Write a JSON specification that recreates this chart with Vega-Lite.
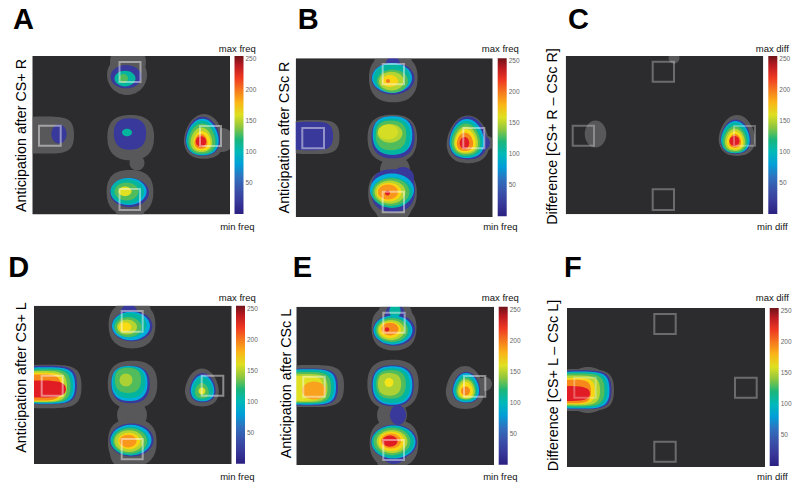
{"$schema":"https://vega.github.io/schema/vega-lite/v6.json","padding":0,"spacing":0,"bounds":"flush","align":"each","columns":3,
"resolve":{"scale":{"color":"independent"},"legend":{"color":"independent"}},
"config":{"view":{"stroke":null},"font":"Liberation Sans",
"range":{"symbol":["M-1,0A1,1,0,1,1,1,0A1,1,0,1,1,-1,0Z","M-.8,0A.8,1,0,1,1,.8,0A.8,1,0,1,1,-.8,0Z","M-1,0A1,.75,0,1,1,1,0A1,.75,0,1,1,-1,0Z","M0,-1C.6,-1,.95,-.1,.85,.35C.75,.85,.35,.95,0,.95C-.35,.95,-.75,.85,-.85,.35C-.95,-.1,-.6,-1,0,-1Z","M-.9,0C-.9,-.7,-.5,-.85,0,-.85C.6,-.85,.9,-.6,.9,0C.9,.6,.6,.9,0,.9C-.6,.9,-.9,.6,-.9,0Z","M-1,0C-1,-.6,-.7,-.62,0,-.62C.7,-.62,1,-.6,1,0C1,.6,.7,.62,0,.62C-.7,.62,-1,.6,-1,0Z","M-1,0C-1,-.3,-.6,-.33,0,-.33C.6,-.33,1,-.3,1,0C1,.3,.6,.33,0,.33C-.6,.33,-1,.3,-1,0Z"]},
"title":{"anchor":"start","frame":"group","offset":0,"fontSize":29,"fontWeight":"bold","font":"Liberation Sans","color":"#000"},
"axis":{"domain":false,"ticks":false,"labels":false,"grid":false,"titleFont":"Liberation Sans","titleFontWeight":"normal","titleFontSize":14.3,"titleColor":"#000"},
"legend":{"title":null,"gradientLength":158,"gradientThickness":9,"labelFontSize":6.5,"labelColor":"#666","labelOverlap":false,"labelOffset":3,"gradientStrokeWidth":0,"labelFont":"Liberation Sans"}},
"data":{"values":[
{"p":"A","k":"bg","x":32.3,"x2":230,"y":56,"y2":214.5},{"p":"A","k":"m","x":20.3,"x2":242,"y":44,"y2":226.5},
{"p":"A","k":"sq","x":119.5,"x2":140.5,"y":62,"y2":82},{"p":"A","k":"sq","x":39,"x2":60.7,"y":125.7,"y2":145.7},{"p":"A","k":"sq","x":200,"x2":221,"y":126,"y2":146},{"p":"A","k":"sq","x":119.5,"x2":140,"y":189,"y2":210},
{"p":"A","k":"t","x":237.3,"y":49,"l":"max freq"},{"p":"A","k":"t","x":237.3,"y":227.3,"l":"min freq"},
{"p":"A","k":"b","x":127,"y":75,"d":40,"s":"o","v":0},{"p":"A","k":"b","x":128,"y":62,"d":36,"s":"o","v":0},{"p":"A","k":"b","x":44,"y":135,"d":60,"s":"r","v":0},{"p":"A","k":"b","x":130.7,"y":137,"d":52,"s":"q","v":0},{"p":"A","k":"b","x":137,"y":163,"d":15,"s":"o","v":0},{"p":"A","k":"b","x":130,"y":192,"d":52,"s":"q","v":0},{"p":"A","k":"b","x":130,"y":205,"d":32,"s":"o","v":0},{"p":"A","k":"b","x":204,"y":137,"d":46,"s":"e","v":0},{"p":"A","k":"b","x":222,"y":140,"d":24,"s":"o","v":0},
{"p":"A","k":"b","x":126,"y":76.7,"d":31,"s":"w","v":20},{"p":"A","k":"b","x":125,"y":78.5,"d":21,"s":"w","v":108},{"p":"A","k":"b","x":123.5,"y":78.5,"d":9,"s":"o","v":130},
{"p":"A","k":"b","x":59,"y":134,"d":19,"s":"t","v":20},
{"p":"A","k":"b","x":130,"y":133.5,"d":36,"s":"q","v":20},{"p":"A","k":"b","x":127,"y":132.5,"d":10,"s":"w","v":108},
{"p":"A","k":"b","x":129.5,"y":192.5,"d":39,"s":"w","v":20},{"p":"A","k":"b","x":128.5,"y":191.5,"d":36,"s":"w","v":85},{"p":"A","k":"b","x":127.5,"y":191.5,"d":33,"s":"w","v":108},{"p":"A","k":"b","x":126.5,"y":191.5,"d":24,"s":"w","v":130},{"p":"A","k":"b","x":125,"y":191.3,"d":13,"s":"w","v":160},
{"p":"A","k":"b","x":202.7,"y":136.7,"d":40,"s":"e","v":20},{"p":"A","k":"b","x":202.5,"y":137.5,"d":37.5,"s":"e","v":85},{"p":"A","k":"b","x":202,"y":138,"d":35,"s":"e","v":108},{"p":"A","k":"b","x":202,"y":139,"d":31,"s":"e","v":130},{"p":"A","k":"b","x":201.5,"y":140,"d":25,"s":"e","v":150},{"p":"A","k":"b","x":202,"y":141,"d":20,"s":"e","v":168},{"p":"A","k":"b","x":201,"y":141.5,"d":15,"s":"e","v":195},{"p":"A","k":"b","x":201,"y":141.5,"d":10.5,"s":"o","v":228},

{"p":"B","k":"bg","x":25.7,"x2":222.7,"y":58.3,"y2":217},{"p":"B","k":"m","x":13.7,"x2":234.7,"y":46.3,"y2":229},
{"p":"B","k":"sq","x":112.7,"x2":134,"y":64,"y2":84.3},{"p":"B","k":"sq","x":32.3,"x2":54,"y":128,"y2":148.3},{"p":"B","k":"sq","x":193.3,"x2":214.3,"y":128,"y2":148.3},{"p":"B","k":"sq","x":112.7,"x2":134,"y":191.7,"y2":212.3},
{"p":"B","k":"t","x":230.3,"y":49,"l":"max freq"},{"p":"B","k":"t","x":230.3,"y":227.3,"l":"min freq"},
{"p":"B","k":"b","x":123.3,"y":78,"d":54,"s":"q","v":0},{"p":"B","k":"b","x":123,"y":64,"d":38,"s":"o","v":0},{"p":"B","k":"b","x":42,"y":137,"d":55,"s":"r","v":0},{"p":"B","k":"b","x":30,"y":137,"d":50,"s":"r","v":0},{"p":"B","k":"b","x":122.3,"y":138,"d":55,"s":"q","v":0},{"p":"B","k":"b","x":125,"y":170,"d":30,"s":"o","v":0},{"p":"B","k":"b","x":122.5,"y":193,"d":54,"s":"q","v":0},{"p":"B","k":"b","x":123,"y":205,"d":38,"s":"o","v":0},{"p":"B","k":"b","x":198,"y":140,"d":49,"s":"e","v":0},{"p":"B","k":"b","x":217,"y":143,"d":14,"s":"o","v":0},
{"p":"B","k":"b","x":123,"y":65,"d":18,"s":"t","v":20},{"p":"B","k":"b","x":123,"y":78.5,"d":43,"s":"w","v":20},{"p":"B","k":"b","x":122,"y":78,"d":40,"s":"w","v":85},{"p":"B","k":"b","x":122,"y":78,"d":37,"s":"w","v":108},{"p":"B","k":"b","x":122.5,"y":81,"d":31,"s":"w","v":130},{"p":"B","k":"b","x":121.5,"y":81,"d":25,"s":"w","v":150},{"p":"B","k":"b","x":120,"y":81,"d":16,"s":"w","v":170},{"p":"B","k":"b","x":118,"y":81,"d":4,"s":"o","v":200},
{"p":"B","k":"b","x":40,"y":136,"d":46,"s":"r","v":20},
{"p":"B","k":"b","x":123,"y":137,"d":48,"s":"q","v":20},{"p":"B","k":"b","x":122.5,"y":135,"d":44,"s":"q","v":85},{"p":"B","k":"b","x":122,"y":136,"d":41,"s":"q","v":108},{"p":"B","k":"b","x":121,"y":135,"d":34,"s":"q","v":130},{"p":"B","k":"b","x":120,"y":133.3,"d":25,"s":"w","v":150},{"p":"B","k":"b","x":118,"y":132,"d":20,"s":"w","v":158},
{"p":"B","k":"b","x":133,"y":178,"d":22,"s":"o","v":20},{"p":"B","k":"b","x":123,"y":190,"d":49,"s":"q","v":20},{"p":"B","k":"b","x":122,"y":190,"d":44,"s":"w","v":85},{"p":"B","k":"b","x":122,"y":192.5,"d":41,"s":"w","v":108},{"p":"B","k":"b","x":121,"y":192,"d":37,"s":"w","v":130},{"p":"B","k":"b","x":120,"y":192,"d":31,"s":"w","v":150},{"p":"B","k":"b","x":119,"y":192,"d":25,"s":"w","v":170},{"p":"B","k":"b","x":118,"y":192,"d":20,"s":"w","v":190},{"p":"B","k":"b","x":117.5,"y":193,"d":5,"s":"o","v":228},
{"p":"B","k":"b","x":213,"y":143,"d":14,"s":"o","v":20},{"p":"B","k":"b","x":198,"y":138.5,"d":44,"s":"e","v":20},{"p":"B","k":"b","x":197,"y":139,"d":40,"s":"e","v":85},{"p":"B","k":"b","x":196.5,"y":139.5,"d":37,"s":"e","v":108},{"p":"B","k":"b","x":196,"y":140,"d":33,"s":"e","v":130},{"p":"B","k":"b","x":196,"y":140.5,"d":28,"s":"e","v":150},{"p":"B","k":"b","x":195.5,"y":141,"d":24,"s":"e","v":168},{"p":"B","k":"b","x":195,"y":142,"d":19,"s":"e","v":195},{"p":"B","k":"b","x":194.5,"y":143,"d":12,"s":"t","v":228},

{"p":"C","k":"bg","x":35.7,"x2":233.3,"y":56,"y2":214.3},{"p":"C","k":"m","x":23.7,"x2":245.3,"y":44,"y2":226.3},
{"p":"C","k":"sq","x":122.7,"x2":144,"y":61.7,"y2":81.7},{"p":"C","k":"sq","x":42.7,"x2":64,"y":125.7,"y2":145.7},{"p":"C","k":"sq","x":204,"x2":225,"y":126,"y2":145.7},{"p":"C","k":"sq","x":122.7,"x2":144,"y":189.3,"y2":210},
{"p":"C","k":"t","x":242.3,"y":49,"l":"max diff"},{"p":"C","k":"t","x":242.3,"y":227.3,"l":"min diff"},
{"p":"C","k":"b","x":144,"y":58,"d":11,"s":"o","v":0},{"p":"C","k":"b","x":65.5,"y":134,"d":27,"s":"t","v":0},{"p":"C","k":"b","x":207,"y":136,"d":42,"s":"e","v":0},
{"p":"C","k":"b","x":205.7,"y":137,"d":35,"s":"e","v":20},{"p":"C","k":"b","x":205.5,"y":137.5,"d":33,"s":"e","v":85},{"p":"C","k":"b","x":205,"y":138,"d":31,"s":"e","v":108},{"p":"C","k":"b","x":205,"y":139.5,"d":27,"s":"e","v":130},{"p":"C","k":"b","x":205,"y":140,"d":23,"s":"e","v":150},{"p":"C","k":"b","x":205,"y":140.5,"d":19,"s":"e","v":168},{"p":"C","k":"b","x":205,"y":141,"d":14,"s":"e","v":195},{"p":"C","k":"b","x":204.5,"y":141,"d":10,"s":"o","v":228},

{"p":"D","k":"bg","x":34,"x2":231.7,"y":60.7,"y2":219},{"p":"D","k":"m","x":22,"x2":243.7,"y":48.7,"y2":231},
{"p":"D","k":"sq","x":121.7,"x2":142.7,"y":66,"y2":86.7},{"p":"D","k":"sq","x":41.7,"x2":62.7,"y":130.7,"y2":150.7},{"p":"D","k":"sq","x":201.7,"x2":223.3,"y":130.7,"y2":150.7},{"p":"D","k":"sq","x":121.7,"x2":142.7,"y":194,"y2":214.3},
{"p":"D","k":"t","x":237.3,"y":52.7,"l":"max freq"},{"p":"D","k":"t","x":237.3,"y":231.7,"l":"min freq"},
{"p":"D","k":"b","x":132,"y":80,"d":52,"s":"q","v":0},{"p":"D","k":"b","x":133,"y":68,"d":36,"s":"o","v":0},{"p":"D","k":"b","x":46.5,"y":141.5,"d":70,"s":"r","v":0},{"p":"D","k":"b","x":132.5,"y":139,"d":55,"s":"q","v":0},{"p":"D","k":"b","x":132,"y":170,"d":30,"s":"o","v":0},{"p":"D","k":"b","x":132.3,"y":197,"d":54,"s":"q","v":0},{"p":"D","k":"b","x":127,"y":208,"d":34,"s":"o","v":0},{"p":"D","k":"b","x":202,"y":143,"d":39,"s":"e","v":0},
{"p":"D","k":"b","x":129,"y":70,"d":22,"s":"t","v":20},{"p":"D","k":"b","x":132,"y":81,"d":41,"s":"w","v":20},{"p":"D","k":"b","x":131,"y":81,"d":38,"s":"w","v":85},{"p":"D","k":"b","x":130,"y":80,"d":33,"s":"w","v":108},{"p":"D","k":"b","x":128,"y":82,"d":27,"s":"w","v":130},{"p":"D","k":"b","x":127,"y":82,"d":20,"s":"w","v":150},{"p":"D","k":"b","x":125,"y":82,"d":13,"s":"w","v":168},
{"p":"D","k":"b","x":46,"y":140,"d":62,"s":"r","v":20},{"p":"D","k":"b","x":45.5,"y":140.5,"d":59,"s":"r","v":85},{"p":"D","k":"b","x":45,"y":140.5,"d":56,"s":"r","v":108},{"p":"D","k":"b","x":44,"y":141,"d":53,"s":"r","v":130},{"p":"D","k":"b","x":42,"y":141.5,"d":50,"s":"r","v":150},{"p":"D","k":"b","x":41,"y":142,"d":46,"s":"r","v":170},{"p":"D","k":"b","x":40,"y":142.5,"d":42,"s":"r","v":195},{"p":"D","k":"b","x":40,"y":144,"d":52,"s":"f","v":228},
{"p":"D","k":"b","x":130.5,"y":139,"d":43,"s":"q","v":20},{"p":"D","k":"b","x":129.5,"y":138,"d":40,"s":"q","v":85},{"p":"D","k":"b","x":129,"y":137,"d":36,"s":"q","v":108},{"p":"D","k":"b","x":128,"y":135,"d":29,"s":"q","v":130},{"p":"D","k":"b","x":126,"y":135,"d":13,"s":"o","v":148},
{"p":"D","k":"b","x":131.5,"y":195,"d":44,"s":"w","v":20},{"p":"D","k":"b","x":131,"y":195,"d":41,"s":"w","v":85},{"p":"D","k":"b","x":130,"y":196,"d":38,"s":"w","v":108},{"p":"D","k":"b","x":130,"y":196,"d":34,"s":"w","v":130},{"p":"D","k":"b","x":129,"y":196,"d":29,"s":"w","v":150},{"p":"D","k":"b","x":129,"y":196,"d":22,"s":"w","v":170},{"p":"D","k":"b","x":128,"y":196,"d":17,"s":"w","v":190},
{"p":"D","k":"b","x":202.7,"y":143,"d":30,"s":"e","v":20},{"p":"D","k":"b","x":202.6,"y":143.5,"d":27,"s":"e","v":85},{"p":"D","k":"b","x":202.5,"y":144,"d":24,"s":"e","v":108},{"p":"D","k":"b","x":202,"y":146,"d":16,"s":"e","v":130},{"p":"D","k":"b","x":202,"y":146,"d":7,"s":"o","v":160},

{"p":"E","k":"bg","x":26.3,"x2":224,"y":61.7,"y2":220},{"p":"E","k":"m","x":14.3,"x2":236,"y":49.7,"y2":232},
{"p":"E","k":"sq","x":113.3,"x2":134.7,"y":67.7,"y2":87.7},{"p":"E","k":"sq","x":33.3,"x2":54.7,"y":131.7,"y2":151.7},{"p":"E","k":"sq","x":194,"x2":215.3,"y":131,"y2":151.7},{"p":"E","k":"sq","x":113.3,"x2":134,"y":195,"y2":215},
{"p":"E","k":"t","x":230.3,"y":52.7,"l":"max freq"},{"p":"E","k":"t","x":230.3,"y":231.7,"l":"min freq"},
{"p":"E","k":"b","x":124,"y":83,"d":50,"s":"q","v":0},{"p":"E","k":"b","x":125,"y":70,"d":34,"s":"o","v":0},{"p":"E","k":"b","x":40,"y":141,"d":68,"s":"r","v":0},{"p":"E","k":"b","x":123,"y":139,"d":57,"s":"q","v":0},{"p":"E","k":"b","x":122,"y":170,"d":30,"s":"o","v":0},{"p":"E","k":"b","x":124,"y":198,"d":54,"s":"q","v":0},{"p":"E","k":"b","x":122,"y":212,"d":32,"s":"o","v":0},{"p":"E","k":"b","x":195,"y":143,"d":44,"s":"e","v":0},{"p":"E","k":"b","x":215,"y":139,"d":14,"s":"o","v":0},
{"p":"E","k":"b","x":125,"y":72,"d":26,"s":"t","v":20},{"p":"E","k":"b","x":124,"y":85,"d":42,"s":"w","v":20},{"p":"E","k":"b","x":125,"y":66,"d":14,"s":"t","v":108},{"p":"E","k":"b","x":123,"y":85,"d":39,"s":"w","v":85},{"p":"E","k":"b","x":122.5,"y":85,"d":36,"s":"w","v":108},{"p":"E","k":"b","x":122,"y":85,"d":32,"s":"w","v":130},{"p":"E","k":"b","x":121,"y":85,"d":27,"s":"w","v":150},{"p":"E","k":"b","x":120,"y":85,"d":22,"s":"w","v":170},{"p":"E","k":"b","x":120,"y":84,"d":17,"s":"w","v":195},{"p":"E","k":"b","x":117,"y":84.5,"d":4.5,"s":"o","v":228},
{"p":"E","k":"b","x":38,"y":142,"d":60,"s":"r","v":20},{"p":"E","k":"b","x":37.5,"y":142,"d":57,"s":"r","v":85},{"p":"E","k":"b","x":37,"y":142,"d":54,"s":"r","v":108},{"p":"E","k":"b","x":36,"y":142.5,"d":50,"s":"r","v":130},{"p":"E","k":"b","x":35,"y":143,"d":45,"s":"r","v":148},{"p":"E","k":"b","x":33,"y":143.5,"d":40,"s":"r","v":160},{"p":"E","k":"b","x":44,"y":145.5,"d":24,"s":"w","v":186},
{"p":"E","k":"b","x":122.7,"y":140.3,"d":47,"s":"q","v":20},{"p":"E","k":"b","x":122.5,"y":140,"d":44,"s":"q","v":85},{"p":"E","k":"b","x":122,"y":140,"d":40,"s":"q","v":108},{"p":"E","k":"b","x":121,"y":139,"d":33,"s":"q","v":130},{"p":"E","k":"b","x":119.5,"y":139,"d":26,"s":"q","v":148},{"p":"E","k":"b","x":119,"y":137.5,"d":9,"s":"o","v":165},
{"p":"E","k":"b","x":128,"y":170,"d":20,"s":"t","v":20},{"p":"E","k":"b","x":124,"y":205,"d":28,"s":"o","v":20},{"p":"E","k":"b","x":124,"y":197,"d":46,"s":"w","v":20},{"p":"E","k":"b","x":123.5,"y":197,"d":44,"s":"w","v":85},{"p":"E","k":"b","x":123,"y":197,"d":42,"s":"w","v":108},{"p":"E","k":"b","x":122,"y":196.5,"d":37,"s":"w","v":130},{"p":"E","k":"b","x":122,"y":196.5,"d":31,"s":"w","v":150},{"p":"E","k":"b","x":121.5,"y":196.5,"d":26,"s":"w","v":170},{"p":"E","k":"b","x":121,"y":196,"d":20,"s":"w","v":190},{"p":"E","k":"b","x":120,"y":196,"d":15,"s":"w","v":228},
{"p":"E","k":"b","x":196.3,"y":142.7,"d":32,"s":"e","v":20},{"p":"E","k":"b","x":196.2,"y":143,"d":30,"s":"e","v":85},{"p":"E","k":"b","x":196,"y":143.5,"d":27,"s":"e","v":108},{"p":"E","k":"b","x":196,"y":144,"d":23,"s":"e","v":130},{"p":"E","k":"b","x":196,"y":144.5,"d":20,"s":"e","v":150},{"p":"E","k":"b","x":196,"y":145,"d":16,"s":"e","v":168},{"p":"E","k":"b","x":195.5,"y":146,"d":9,"s":"o","v":195},

{"p":"F","k":"bg","x":37,"x2":235,"y":63,"y2":222},{"p":"F","k":"m","x":25,"x2":247,"y":51,"y2":234},
{"p":"F","k":"sq","x":124.3,"x2":145.7,"y":69,"y2":89},{"p":"F","k":"sq","x":44.3,"x2":65.7,"y":132.7,"y2":152.7},{"p":"F","k":"sq","x":205,"x2":226.7,"y":132.7,"y2":152.7},{"p":"F","k":"sq","x":124.3,"x2":145.7,"y":196.7,"y2":216.7},
{"p":"F","k":"t","x":242.3,"y":52.7,"l":"max diff"},{"p":"F","k":"t","x":242.3,"y":231.7,"l":"min diff"},
{"p":"F","k":"b","x":50,"y":145,"d":68,"s":"r","v":0},{"p":"F","k":"b","x":58,"y":145,"d":46,"s":"o","v":0},
{"p":"F","k":"b","x":50,"y":144.7,"d":63,"s":"r","v":20},{"p":"F","k":"b","x":49.5,"y":145,"d":60,"s":"r","v":85},{"p":"F","k":"b","x":49,"y":145,"d":57,"s":"r","v":108},{"p":"F","k":"b","x":48,"y":145,"d":53,"s":"r","v":130},{"p":"F","k":"b","x":46,"y":145.5,"d":48,"s":"r","v":150},{"p":"F","k":"b","x":44,"y":146,"d":42,"s":"r","v":170},{"p":"F","k":"b","x":42,"y":146.5,"d":38,"s":"r","v":195},{"p":"F","k":"b","x":37,"y":148.5,"d":46,"s":"f","v":228}
]},
"concat":[
{"width":270,"height":245,"title":{"text":"A","dx":13,"dy":38.5},"transform":[{"filter":"datum.p=='A'"}],
"encoding":{"x":{"field":"x","type":"quantitative","axis":null,"scale":{"domain":[0,270],"range":[0,270]}},"y":{"field":"y","type":"quantitative","scale":{"domain":[0,245],"range":[0,245]},"axis":{"zindex":1,"title":"Anticipation after CS+ R","titleX":28,"titleY":135}}},
"layer":[
{"transform":[{"filter":"datum.k=='bg'"}],"mark":{"type":"rect","fill":"#2c2c2e"},"encoding":{"x2":{"field":"x2"},"y2":{"field":"y2"}}},
{"transform":[{"filter":"datum.k=='b'"}],"mark":{"type":"point","filled":true,"opacity":1,"strokeWidth":0},"encoding":{"size":{"field":"d","type":"quantitative","legend":null,"scale":{"type":"pow","exponent":2,"domain":[0,100],"range":[0,10000]}},"shape":{"field":"s","type":"nominal","legend":null,"scale":{"domain":["o","t","w","e","q","r","f"]}},"color":{"condition":{"test":"datum.v==0","value":"#58585b"},"field":"v","type":"quantitative","scale":{"domain":[0,25,50,75,90,105,125,140,165,185,205,225,245,255],"range":["#2a2080","#3b3fa0","#3a5fb0","#1d8fd1","#00bde0","#12b5a5","#2fb56a","#8dc63f","#f4e51a","#f9a51e","#f26a21","#ed1c24","#a81a20","#6e1418"]},"legend":{"orient":"none","legendX":234.5,"legendY":56,"values":[50,100,150,200,250]}}}},
{"transform":[{"filter":"datum.k=='sq'"}],"mark":{"type":"rect","fill":"transparent","stroke":"#fff","strokeWidth":2,"strokeOpacity":0.45},"encoding":{"x2":{"field":"x2"},"y2":{"field":"y2"}}},
{"transform":[{"filter":"datum.k=='m'"}],"mark":{"type":"rect","fill":"transparent","stroke":"#fff","strokeWidth":24},"encoding":{"x2":{"field":"x2"},"y2":{"field":"y2"}}},
{"transform":[{"filter":"datum.k=='t'"}],"mark":{"type":"text","fontSize":9.5,"color":"#111"},"encoding":{"text":{"field":"l"}}}
]},
{"width":260,"height":245,"title":{"text":"B","dx":27.7,"dy":38.5},"transform":[{"filter":"datum.p=='B'"}],
"encoding":{"x":{"field":"x","type":"quantitative","axis":null,"scale":{"domain":[0,260],"range":[0,260]}},"y":{"field":"y","type":"quantitative","scale":{"domain":[0,245],"range":[0,245]},"axis":{"zindex":1,"title":"Anticipation after CSc R","titleX":21,"titleY":137}}},
"layer":[
{"transform":[{"filter":"datum.k=='bg'"}],"mark":{"type":"rect","fill":"#2c2c2e"},"encoding":{"x2":{"field":"x2"},"y2":{"field":"y2"}}},
{"transform":[{"filter":"datum.k=='b'"}],"mark":{"type":"point","filled":true,"opacity":1,"strokeWidth":0},"encoding":{"size":{"field":"d","type":"quantitative","legend":null,"scale":{"type":"pow","exponent":2,"domain":[0,100],"range":[0,10000]}},"shape":{"field":"s","type":"nominal","legend":null,"scale":{"domain":["o","t","w","e","q","r","f"]}},"color":{"condition":{"test":"datum.v==0","value":"#58585b"},"field":"v","type":"quantitative","scale":{"domain":[0,25,50,75,90,105,125,140,165,185,205,225,245,255],"range":["#2a2080","#3b3fa0","#3a5fb0","#1d8fd1","#00bde0","#12b5a5","#2fb56a","#8dc63f","#f4e51a","#f9a51e","#f26a21","#ed1c24","#a81a20","#6e1418"]},"legend":{"orient":"none","legendX":227.7,"legendY":58.3,"values":[50,100,150,200,250]}}}},
{"transform":[{"filter":"datum.k=='sq'"}],"mark":{"type":"rect","fill":"transparent","stroke":"#fff","strokeWidth":2,"strokeOpacity":0.45},"encoding":{"x2":{"field":"x2"},"y2":{"field":"y2"}}},
{"transform":[{"filter":"datum.k=='m'"}],"mark":{"type":"rect","fill":"transparent","stroke":"#fff","strokeWidth":24},"encoding":{"x2":{"field":"x2"},"y2":{"field":"y2"}}},
{"transform":[{"filter":"datum.k=='t'"}],"mark":{"type":"text","fontSize":9.5,"color":"#111"},"encoding":{"text":{"field":"l"}}}
]},
{"width":270,"height":245,"title":{"text":"C","dx":38,"dy":38.5},"transform":[{"filter":"datum.p=='C'"}],
"encoding":{"x":{"field":"x","type":"quantitative","axis":null,"scale":{"domain":[0,270],"range":[0,270]}},"y":{"field":"y","type":"quantitative","scale":{"domain":[0,245],"range":[0,245]},"axis":{"zindex":1,"title":"Difference [CS+ R – CSc R]","titleX":29,"titleY":136}}},
"layer":[
{"transform":[{"filter":"datum.k=='bg'"}],"mark":{"type":"rect","fill":"#2c2c2e"},"encoding":{"x2":{"field":"x2"},"y2":{"field":"y2"}}},
{"transform":[{"filter":"datum.k=='b'"}],"mark":{"type":"point","filled":true,"opacity":1,"strokeWidth":0},"encoding":{"size":{"field":"d","type":"quantitative","legend":null,"scale":{"type":"pow","exponent":2,"domain":[0,100],"range":[0,10000]}},"shape":{"field":"s","type":"nominal","legend":null,"scale":{"domain":["o","t","w","e","q","r","f"]}},"color":{"condition":{"test":"datum.v==0","value":"#58585b"},"field":"v","type":"quantitative","scale":{"domain":[0,25,50,75,90,105,125,140,165,185,205,225,245,255],"range":["#2a2080","#3b3fa0","#3a5fb0","#1d8fd1","#00bde0","#12b5a5","#2fb56a","#8dc63f","#f4e51a","#f9a51e","#f26a21","#ed1c24","#a81a20","#6e1418"]},"legend":{"orient":"none","legendX":238.3,"legendY":56,"values":[50,100,150,200,250]}}}},
{"transform":[{"filter":"datum.k=='sq'"}],"mark":{"type":"rect","fill":"transparent","stroke":"#fff","strokeWidth":2,"strokeOpacity":0.3},"encoding":{"x2":{"field":"x2"},"y2":{"field":"y2"}}},
{"transform":[{"filter":"datum.k=='m'"}],"mark":{"type":"rect","fill":"transparent","stroke":"#fff","strokeWidth":24},"encoding":{"x2":{"field":"x2"},"y2":{"field":"y2"}}},
{"transform":[{"filter":"datum.k=='t'"}],"mark":{"type":"text","fontSize":9.5,"color":"#111"},"encoding":{"text":{"field":"l"}}}
]},
{"width":270,"height":245,"title":{"text":"D","dx":8.3,"dy":42},"transform":[{"filter":"datum.p=='D'"}],
"encoding":{"x":{"field":"x","type":"quantitative","axis":null,"scale":{"domain":[0,270],"range":[0,270]}},"y":{"field":"y","type":"quantitative","scale":{"domain":[0,245],"range":[0,245]},"axis":{"zindex":1,"title":"Anticipation after CS+ L","titleX":28,"titleY":132}}},
"layer":[
{"transform":[{"filter":"datum.k=='bg'"}],"mark":{"type":"rect","fill":"#2c2c2e"},"encoding":{"x2":{"field":"x2"},"y2":{"field":"y2"}}},
{"transform":[{"filter":"datum.k=='b'"}],"mark":{"type":"point","filled":true,"opacity":1,"strokeWidth":0},"encoding":{"size":{"field":"d","type":"quantitative","legend":null,"scale":{"type":"pow","exponent":2,"domain":[0,100],"range":[0,10000]}},"shape":{"field":"s","type":"nominal","legend":null,"scale":{"domain":["o","t","w","e","q","r","f"]}},"color":{"condition":{"test":"datum.v==0","value":"#58585b"},"field":"v","type":"quantitative","scale":{"domain":[0,25,50,75,90,105,125,140,165,185,205,225,245,255],"range":["#2a2080","#3b3fa0","#3a5fb0","#1d8fd1","#00bde0","#12b5a5","#2fb56a","#8dc63f","#f4e51a","#f9a51e","#f26a21","#ed1c24","#a81a20","#6e1418"]},"legend":{"orient":"none","legendX":236,"legendY":60.7,"values":[50,100,150,200,250]}}}},
{"transform":[{"filter":"datum.k=='sq'"}],"mark":{"type":"rect","fill":"transparent","stroke":"#fff","strokeWidth":2,"strokeOpacity":0.45},"encoding":{"x2":{"field":"x2"},"y2":{"field":"y2"}}},
{"transform":[{"filter":"datum.k=='m'"}],"mark":{"type":"rect","fill":"transparent","stroke":"#fff","strokeWidth":24},"encoding":{"x2":{"field":"x2"},"y2":{"field":"y2"}}},
{"transform":[{"filter":"datum.k=='t'"}],"mark":{"type":"text","fontSize":9.5,"color":"#111"},"encoding":{"text":{"field":"l"}}}
]},
{"width":260,"height":245,"title":{"text":"E","dx":22.7,"dy":42},"transform":[{"filter":"datum.p=='E'"}],
"encoding":{"x":{"field":"x","type":"quantitative","axis":null,"scale":{"domain":[0,260],"range":[0,260]}},"y":{"field":"y","type":"quantitative","scale":{"domain":[0,245],"range":[0,245]},"axis":{"zindex":1,"title":"Anticipation after CSc L","titleX":23.7,"titleY":138}}},
"layer":[
{"transform":[{"filter":"datum.k=='bg'"}],"mark":{"type":"rect","fill":"#2c2c2e"},"encoding":{"x2":{"field":"x2"},"y2":{"field":"y2"}}},
{"transform":[{"filter":"datum.k=='b'"}],"mark":{"type":"point","filled":true,"opacity":1,"strokeWidth":0},"encoding":{"size":{"field":"d","type":"quantitative","legend":null,"scale":{"type":"pow","exponent":2,"domain":[0,100],"range":[0,10000]}},"shape":{"field":"s","type":"nominal","legend":null,"scale":{"domain":["o","t","w","e","q","r","f"]}},"color":{"condition":{"test":"datum.v==0","value":"#58585b"},"field":"v","type":"quantitative","scale":{"domain":[0,25,50,75,90,105,125,140,165,185,205,225,245,255],"range":["#2a2080","#3b3fa0","#3a5fb0","#1d8fd1","#00bde0","#12b5a5","#2fb56a","#8dc63f","#f4e51a","#f9a51e","#f26a21","#ed1c24","#a81a20","#6e1418"]},"legend":{"orient":"none","legendX":228.7,"legendY":61.7,"values":[50,100,150,200,250]}}}},
{"transform":[{"filter":"datum.k=='sq'"}],"mark":{"type":"rect","fill":"transparent","stroke":"#fff","strokeWidth":2,"strokeOpacity":0.45},"encoding":{"x2":{"field":"x2"},"y2":{"field":"y2"}}},
{"transform":[{"filter":"datum.k=='m'"}],"mark":{"type":"rect","fill":"transparent","stroke":"#fff","strokeWidth":24},"encoding":{"x2":{"field":"x2"},"y2":{"field":"y2"}}},
{"transform":[{"filter":"datum.k=='t'"}],"mark":{"type":"text","fontSize":9.5,"color":"#111"},"encoding":{"text":{"field":"l"}}}
]},
{"width":270,"height":245,"title":{"text":"F","dx":34,"dy":42},"transform":[{"filter":"datum.p=='F'"}],
"encoding":{"x":{"field":"x","type":"quantitative","axis":null,"scale":{"domain":[0,270],"range":[0,270]}},"y":{"field":"y","type":"quantitative","scale":{"domain":[0,245],"range":[0,245]},"axis":{"zindex":1,"title":"Difference [CS+ L – CSc L]","titleX":30,"titleY":140}}},
"layer":[
{"transform":[{"filter":"datum.k=='bg'"}],"mark":{"type":"rect","fill":"#2c2c2e"},"encoding":{"x2":{"field":"x2"},"y2":{"field":"y2"}}},
{"transform":[{"filter":"datum.k=='b'"}],"mark":{"type":"point","filled":true,"opacity":1,"strokeWidth":0},"encoding":{"size":{"field":"d","type":"quantitative","legend":null,"scale":{"type":"pow","exponent":2,"domain":[0,100],"range":[0,10000]}},"shape":{"field":"s","type":"nominal","legend":null,"scale":{"domain":["o","t","w","e","q","r","f"]}},"color":{"condition":{"test":"datum.v==0","value":"#58585b"},"field":"v","type":"quantitative","scale":{"domain":[0,25,50,75,90,105,125,140,165,185,205,225,245,255],"range":["#2a2080","#3b3fa0","#3a5fb0","#1d8fd1","#00bde0","#12b5a5","#2fb56a","#8dc63f","#f4e51a","#f9a51e","#f26a21","#ed1c24","#a81a20","#6e1418"]},"legend":{"orient":"none","legendX":239.7,"legendY":63,"values":[50,100,150,200,250]}}}},
{"transform":[{"filter":"datum.k=='sq'"}],"mark":{"type":"rect","fill":"transparent","stroke":"#fff","strokeWidth":2,"strokeOpacity":0.3},"encoding":{"x2":{"field":"x2"},"y2":{"field":"y2"}}},
{"transform":[{"filter":"datum.k=='m'"}],"mark":{"type":"rect","fill":"transparent","stroke":"#fff","strokeWidth":24},"encoding":{"x2":{"field":"x2"},"y2":{"field":"y2"}}},
{"transform":[{"filter":"datum.k=='t'"}],"mark":{"type":"text","fontSize":9.5,"color":"#111"},"encoding":{"text":{"field":"l"}}}
]}
]}
